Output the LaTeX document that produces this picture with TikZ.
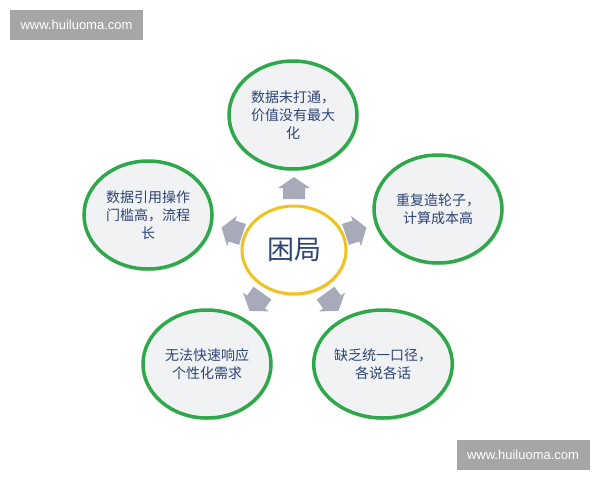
\documentclass[tikz,border=0pt]{standalone}
\usepackage{fontspec}
\setmainfont{Liberation Sans}
\newfontfamily\cjk{Noto Sans CJK SC}
\usetikzlibrary{shapes.geometric,shadows}
\definecolor{ringgreen}{HTML}{2EA84A}
\definecolor{ringgold}{HTML}{F0C21E}
\definecolor{bubblefill}{HTML}{F1F2F4}
\definecolor{textblue}{HTML}{2E4575}
\definecolor{arrowgray}{HTML}{A7ABB9}
\definecolor{markgray}{HTML}{A6A6A6}
\tikzset{
  bubble/.style={ellipse, draw=ringgreen, line width=3.5pt, fill=bubblefill,
    minimum width=128pt, minimum height=108pt, inner sep=0pt,
    align=center, text=textblue, font=\cjk\fontsize{14}{18}\selectfont,
    drop shadow={opacity=0.18, shadow xshift=1.5pt, shadow yshift=-2.5pt}},
  core/.style={ellipse, draw=ringgold, line width=3pt, fill=white,
    minimum width=104pt, minimum height=88pt, inner sep=0pt,
    text=textblue, font=\cjk\fontsize{27}{30}\selectfont,
    drop shadow={opacity=0.18, shadow xshift=1.5pt, shadow yshift=-2.5pt}},
  wmark/.style={fill=markgray, text=white, font=\fontsize{13}{15}\selectfont,
    minimum width=133pt, minimum height=30pt, inner sep=0pt},
}
\newcommand{\outarrow}[3]{%
  \begin{scope}[shift={(#1,#2)}, rotate=#3]
    \fill[arrowgray] (11,0) -- (0,16) -- (0,11) -- (-11,11) -- (-11,-11)
      -- (0,-11) -- (0,-16) -- cycle;
  \end{scope}}
\begin{document}
\begin{tikzpicture}[x=1pt,y=-1pt]
\useasboundingbox (0,0) rectangle (600,480);
\fill[white] (0,0) rectangle (600,480);

\node[wmark] (wm1) at (76.5,25) {www.huiluoma.com};
\node[wmark] (wm2) at (523,455) {www.huiluoma.com};

\node[bubble] (top) at (293,115) {数据未打通，\\价值没有最大\\化};
\node[bubble] (left) at (148,215) {数据引用操作\\门槛高，流程\\长};
\node[bubble] (right) at (438,209) {重复造轮子，\\计算成本高};
\node[bubble] (bl) at (207,364) {无法快速响应\\个性化需求};
\node[bubble] (br) at (383,364) {缺乏统一口径，\\各说各话};

\node[core] (center) at (294,250) {困局};

\outarrow{294}{188}{90}
\outarrow{232}{231}{162}
\outarrow{356}{231}{18}
\outarrow{256}{302}{234}
\outarrow{332}{302}{306}
\end{tikzpicture}
\end{document}
